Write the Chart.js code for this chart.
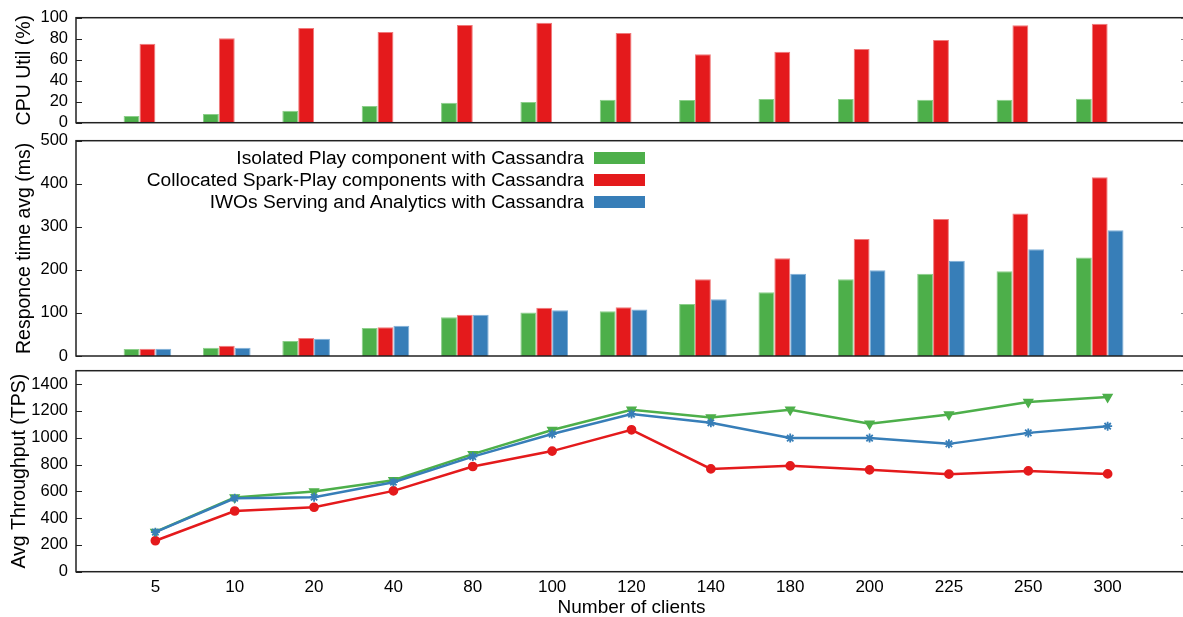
<!DOCTYPE html>
<html>
<head>
<meta charset="utf-8">
<script src="https://cdn.jsdelivr.net/npm/chart.js@4.4.0/dist/chart.umd.min.js"></script>
<style>
body { margin: 0; overflow: hidden; background: #fff; font-family: "Liberation Sans", Arial, sans-serif; }
#wrap { position: relative; width: 1200px; height: 617px; }
canvas { position: absolute; left: 0; }
#legend { position: absolute; left: 0; top: 147px; width: 645px; font-size: 19.2px; }
#legend .row { display: flex; justify-content: flex-end; align-items: center; height: 22px; }
#legend .box { width: 51px; height: 12px; margin-left: 10px; }
</style>
</head>
<body>
<div id="wrap">
  <canvas id="cpuChart" width="1200" height="135" style="top:0"></canvas>
  <canvas id="respChart" width="1200" height="240" style="top:125px"></canvas>
  <canvas id="tpsChart" width="1200" height="259" style="top:360px"></canvas>
  <div id="legend"></div>
</div>
<script>
// data
var clients = ['5', '10', '20', '40', '80', '100', '120', '140', '180', '200', '225', '250', '300'];
var seriesNames = ['Isolated Play component with Cassandra', 'Collocated Spark-Play components with Cassandra', 'IWOs Serving and Analytics with Cassandra'];

var cpuIsolated = [6.4, 8.3, 11.4, 15.9, 19, 19.7, 21.9, 21.6, 22.6, 22.6, 21.9, 21.9, 22.9];
var cpuCollocated = [75.2, 80.4, 90.2, 86.4, 93, 95.2, 85.4, 65.1, 67.6, 70.2, 78.8, 92.8, 94.3];

var respIsolated = [16, 19, 35, 65, 90, 101, 104, 121, 148, 178, 191, 197, 229];
var respCollocated = [17, 24, 42, 67, 96, 112, 113, 178, 227, 272, 318, 331, 415];
var respIwos = [17, 19, 40, 70, 96, 106, 108, 132, 191, 199, 221, 248, 292];

var tpsIsolated = [297, 553, 598, 683, 877, 1057, 1208, 1151, 1208, 1104, 1173, 1266, 1303];
var tpsCollocated = [231, 453, 481, 603, 785, 900, 1059, 767, 790, 760, 728, 752, 730];
var tpsIwos = [295, 548, 556, 668, 859, 1027, 1176, 1111, 997, 997, 954, 1036, 1086];

var cpuTicks = [0, 20, 40, 60, 80, 100];
var respTicks = [0, 100, 200, 300, 400, 500];
var tpsTicks = [0, 200, 400, 600, 800, 1000, 1200, 1400];

var green = '#4daf4a', red = '#e41a1c', blue = '#377eb8';

Chart.defaults.font.family = '"Liberation Sans", Arial, sans-serif';
Chart.defaults.color = '#000';
Chart.defaults.plugins.legend.display = false;
Chart.defaults.plugins.tooltip.enabled = false;
Chart.defaults.animation = false;

function points(values) {
    return values.map(function (v, i) { return { x: i, y: v }; });
}

function indexTicks(s) {
    s.ticks = clients.map(function (c, i) { return { value: i }; });
}

// box round the plot area with inward ticks on both sides
var framePlugin = {
    id: 'frame',
    afterDraw: function (chart) {
        var a = chart.chartArea, ctx = chart.ctx, y = chart.scales.y;
        ctx.save();
        ctx.lineWidth = 1;
        y.ticks.forEach(function (t) {
            var py = Math.round(y.getPixelForValue(t.value)) + 0.5;
            ctx.strokeStyle = '#222';
            ctx.beginPath(); ctx.moveTo(a.left, py); ctx.lineTo(a.left + 6, py); ctx.stroke();
            ctx.strokeStyle = '#888';
            ctx.beginPath(); ctx.moveTo(a.right, py); ctx.lineTo(a.right - 6, py); ctx.stroke();
        });
        ctx.strokeStyle = '#222';
        ctx.lineWidth = 1.5;
        ctx.strokeRect(a.left, a.top, a.right - a.left, a.bottom - a.top);
        ctx.restore();
    }
};

function yScale(title, tickValues, max, titlePad) {
    return {
        min: 0,
        max: max,
        grid: { display: false, drawTicks: false },
        border: { display: false },
        afterBuildTicks: function (s) {
            s.ticks = tickValues.map(function (v) { return { value: v }; });
        },
        ticks: {
            padding: 8, autoSkip: false, font: { size: 16.5 }, color: '#000',
            callback: function (v) { return String(v); }
        },
        title: { display: true, text: title, font: { size: 19.5 }, color: '#000', padding: { top: titlePad, bottom: 0 } },
        afterFit: function (s) {
            s.width = 76;
            s.paddingTop = 0;
            s.paddingBottom = 0;
        }
    };
}

function hiddenX(shift) {
    return {
        type: 'linear', display: false, offset: false,
        min: -1 + shift, max: 13 + shift,
        afterBuildTicks: indexTicks
    };
}

function bar(label, values, color, edge) {
    return {
        label: label,
        data: points(values),
        backgroundColor: color,
        borderColor: edge,
        borderWidth: 1
    };
}

// CPU utilisation
new Chart(document.getElementById('cpuChart'), {
    type: 'bar',
    data: {
        datasets: [
            bar(seriesNames[0], cpuIsolated, green, '#8ccf8a'),
            bar(seriesNames[1], cpuCollocated, red, '#f07a7b')
        ]
    },
    options: {
        responsive: false,
        layout: { padding: { top: 17.7, bottom: 12.3, right: 13, left: 0 } },
        datasets: { bar: { categoryPercentage: 0.4, barPercentage: 1 } },
        scales: {
            x: hiddenX(0.2),
            y: yScale('CPU Util (%)', cpuTicks, 100, 13)
        }
    },
    plugins: [framePlugin]
});

// response time
var respChart = new Chart(document.getElementById('respChart'), {
    type: 'bar',
    data: {
        datasets: [
            bar(seriesNames[0], respIsolated, green, '#8ccf8a'),
            bar(seriesNames[1], respCollocated, red, '#f07a7b'),
            bar(seriesNames[2], respIwos, blue, '#7fb0d9')
        ]
    },
    options: {
        responsive: false,
        layout: { padding: { top: 15.7, bottom: 9, right: 13, left: 0 } },
        datasets: { bar: { categoryPercentage: 0.6, barPercentage: 1 } },
        scales: {
            x: hiddenX(0.1),
            y: yScale('Responce time avg (ms)', respTicks, 500, 13)
        }
    },
    plugins: [framePlugin]
});

// throughput
new Chart(document.getElementById('tpsChart'), {
    type: 'line',
    data: {
        datasets: [
            {
                label: seriesNames[0], data: points(tpsIsolated), borderColor: green, backgroundColor: green,
                borderWidth: 2.5, pointStyle: 'triangle', rotation: 180, pointRadius: 4, order: 2
            },
            {
                label: seriesNames[1], data: points(tpsCollocated), borderColor: red, backgroundColor: red,
                borderWidth: 2.5, pointStyle: 'circle', pointRadius: 3.6, order: 1
            },
            {
                label: seriesNames[2], data: points(tpsIwos), borderColor: blue, backgroundColor: blue,
                borderWidth: 2.5, pointStyle: 'star', pointRadius: 4.5, pointBorderWidth: 1.8, order: 0
            }
        ]
    },
    options: {
        responsive: false,
        layout: { padding: { top: 10.7, bottom: 0, right: 13, left: 0 } },
        scales: {
            x: {
                type: 'linear',
                min: -1,
                max: 13,
                offset: false,
                grid: { display: false, drawTicks: false },
                border: { display: false },
                afterBuildTicks: indexTicks,
                ticks: {
                    padding: 5,
                    font: { size: 17 },
                    color: '#000',
                    maxRotation: 0,
                    autoSkip: false,
                    callback: function (v) { return clients[v]; }
                },
                title: { display: true, text: 'Number of clients', font: { size: 19 }, color: '#000', padding: { top: 0, bottom: 0 } },
                afterFit: function (s) {
                    s.height = 47.3;
                    s.paddingLeft = 0;
                    s.paddingRight = 0;
                }
            },
            y: yScale('Avg Throughput (TPS)', tpsTicks, 1500, 8)
        }
    },
    plugins: [framePlugin]
});

// legend built from the response time chart
var legend = document.getElementById('legend');
respChart.data.datasets.forEach(function (d) {
    var row = document.createElement('div');
    row.className = 'row';
    var txt = document.createElement('span');
    txt.textContent = d.label;
    var box = document.createElement('span');
    box.className = 'box';
    box.style.background = d.backgroundColor;
    row.appendChild(txt);
    row.appendChild(box);
    legend.appendChild(row);
});
</script>
</body>
</html>
